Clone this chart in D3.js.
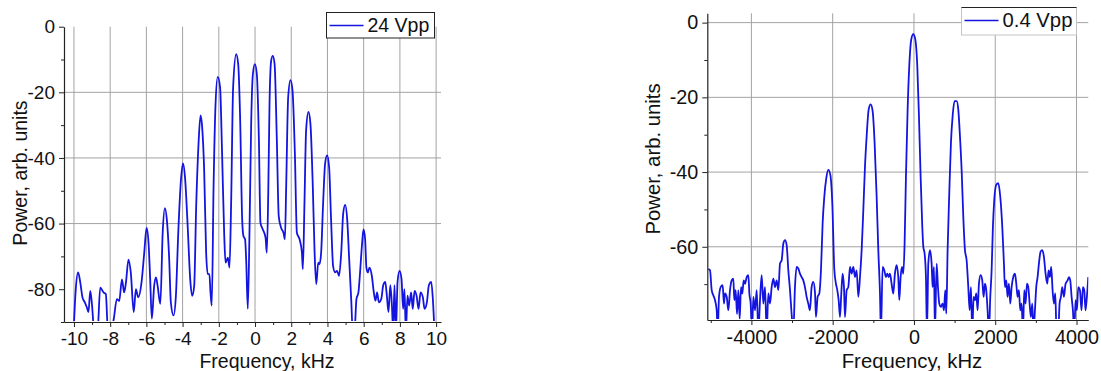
<!DOCTYPE html>
<html>
<head>
<meta charset="utf-8">
<script src="https://cdn.jsdelivr.net/npm/d3@7"></script>
<style>
    body { margin: 0; background: #fff; }
    svg { display: block; font-family: "Liberation Sans", Arial, sans-serif; }
</style>
</head>
<body>
<div id="my_chart"></div>
<script>
// left panel: 24 Vpp, frequency in kHz
var leftFreq = [-10.02, -9.9, -9.77, -9.65, -9.53, -9.4, -9.29, -9.2, -9.1, -9.0, -8.88, -8.7, -8.55, -8.37, -8.24, -8.12, -7.96, -7.8, -7.63, -7.5,
    -7.35, -7.23, -7.13, -6.99, -6.86, -6.7, -6.58, -6.45, -6.27, -6.12, -5.99, -5.88, -5.79, -5.7, -5.57, -5.47, -5.38, -5.23, -5.1, -4.98,
    -4.87, -4.74, -4.65, -4.5, -4.37, -4.24, -4.09, -3.98, -3.87, -3.72, -3.58, -3.47, -3.36, -3.25, -3.12, -3.01, -2.92, -2.81, -2.7, -2.61,
    -2.52, -2.46, -2.39, -2.29, -2.18, -2.06, -1.93, -1.82, -1.7, -1.63, -1.5, -1.41, -1.32, -1.21, -1.04, -0.93, -0.82, -0.71, -0.64, -0.55,
    -0.49, -0.4, -0.31, -0.21, -0.12, -0.01, 0.1, 0.21, 0.3, 0.43, 0.58, 0.65, 0.73, 0.8, 0.89, 0.98, 1.08, 1.2, 1.31, 1.44,
    1.57, 1.65, 1.72, 1.83, 1.96, 2.07, 2.2, 2.31, 2.46, 2.59, 2.64, 2.73, 2.82, 2.95, 3.06, 3.19, 3.29, 3.38, 3.49, 3.56,
    3.65, 3.76, 3.87, 3.98, 4.09, 4.2, 4.31, 4.42, 4.53, 4.64, 4.76, 4.87, 4.98, 5.09, 5.2, 5.31, 5.4, 5.49, 5.6, 5.71,
    5.8, 5.9, 5.99, 6.08, 6.15, 6.23, 6.32, 6.45, 6.56, 6.65, 6.74, 6.84, 6.97, 7.08, 7.19, 7.28, 7.37, 7.47, 7.56, 7.63,
    7.7, 7.78, 7.87, 7.98, 8.09, 8.18, 8.25, 8.33, 8.42, 8.51, 8.62, 8.71, 8.81, 8.92, 9.03, 9.14, 9.27, 9.36, 9.49, 9.6,
    9.73, 9.82, 9.91];
var leftPower = [-93, -80, -74.9, -78, -82.5, -84, -85.5, -87, -80.5, -85, -93, -93, -79.5, -81, -81.5, -93, -93, -89, -83, -83.6,
    -77, -81, -78, -71, -75, -87, -80, -82.5, -78, -69, -61.3, -66, -77, -89, -79, -76.4, -79, -84.5, -62.8, -55.3,
    -58.8, -70.9, -84, -88, -82, -62.8, -46.7, -41.7, -45.7, -60.8, -77, -82, -79, -54.8, -35.6, -27, -30.6, -43.7, -68.9, -75.4,
    -75.4, -81, -85, -48.7, -23.5, -15.3, -18.5, -38.6, -63.8, -71.9, -70.4, -73.4, -53.8, -18.5, -8.4, -11.4, -28.6, -58.8, -63.8, -64.8,
    -70.9, -86, -63.8, -28.6, -14.5, -11.4, -14.5, -33.6, -59.8, -61.8, -64.3, -68.9, -50.7, -23.5, -10.4, -8.9, -11.4, -33.6, -57.8, -61.3,
    -62.8, -64.8, -48.7, -21.5, -16.3, -19.5, -38.6, -62.8, -64.8, -68.9, -73.9, -53.8, -31.6, -26, -29.6, -48.7, -68.9, -78.5, -71.9, -72.4,
    -68.9, -53.8, -41.7, -39.2, -42.7, -58.8, -72.9, -74.9, -74.4, -75.9, -68.9, -56.8, -54.3, -58.8, -70.9, -83, -93, -93, -83, -81,
    -74.9, -66.9, -61.8, -64.8, -73.4, -74.9, -73.4, -75.9, -81, -83.5, -81, -84, -83, -78.8, -77.8, -82, -87, -78.8, -85, -93,
    -78.8, -93, -77.8, -74.4, -76.9, -86, -80, -93, -82, -85, -81, -86, -80.5, -82, -86, -81, -82.5, -86, -84, -78.8,
    -77.8, -83, -93];

// right panel: 0.4 Vpp
var rightFreq = [-5060, -5018, -4977, -4936, -4895, -4854, -4829, -4797, -4756, -4707, -4674, -4649, -4608, -4567, -4526, -4485, -4444, -4420, -4387, -4354,
    -4321, -4288, -4255, -4223, -4190, -4157, -4116, -4075, -4050, -4018, -3985, -3952, -3911, -3870, -3829, -3788, -3747, -3706, -3665, -3624,
    -3583, -3542, -3501, -3460, -3419, -3378, -3337, -3296, -3255, -3214, -3173, -3132, -3091, -3050, -3010, -2969, -2928, -2887, -2846, -2805,
    -2764, -2723, -2682, -2641, -2600, -2559, -2518, -2477, -2436, -2411, -2370, -2329, -2288, -2247, -2206, -2157, -2107, -2058, -2009, -1960,
    -1919, -1886, -1853, -1820, -1788, -1755, -1722, -1697, -1656, -1615, -1574, -1533, -1492, -1451, -1410, -1369, -1328, -1287, -1246, -1205,
    -1164, -1115, -1066, -1017, -968, -918, -877, -836, -812, -771, -730, -689, -656, -623, -591, -550, -509, -468, -427, -386,
    -361, -328, -295, -262, -230, -197, -156, -115, -66, -16, 33, 82, 123, 164, 205, 230, 262, 295, 320, 353,
    394, 435, 459, 492, 517, 558, 591, 623, 664, 705, 738, 771, 796, 828, 869, 910, 951, 1000, 1050, 1091,
    1132, 1173, 1214, 1255, 1296, 1337, 1370, 1402, 1435, 1468, 1501, 1534, 1566, 1599, 1640, 1681, 1714, 1747, 1779, 1812,
    1845, 1878, 1911, 1943, 1976, 2025, 2075, 2124, 2173, 2214, 2239, 2272, 2304, 2337, 2370, 2403, 2444, 2485, 2518, 2550,
    2583, 2616, 2649, 2682, 2714, 2747, 2780, 2813, 2846, 2878, 2911, 2944, 2977, 3009, 3042, 3075, 3116, 3157, 3198, 3239,
    3280, 3313, 3345, 3378, 3411, 3444, 3477, 3509, 3550, 3583, 3616, 3649, 3690, 3731, 3780, 3813, 3846, 3879, 3911, 3944,
    3977, 4010, 4042, 4083, 4124, 4157, 4190, 4222, 4255, 4290];
var rightPower = [-66, -66.3, -71.6, -73, -74.3, -77, -83, -73.4, -70.8, -70.3, -75.2, -72.5, -73.4, -77, -71.6, -69, -68.5, -74.3, -71.6, -78,
    -71.6, -79.3, -70.8, -72.5, -69, -69.9, -68.1, -67.6, -72.5, -75.2, -83, -73.4, -77, -71.6, -83, -74.3, -67.6, -75.2, -70.8, -83,
    -72.5, -75.2, -70.8, -68.5, -70.8, -69, -71.6, -64.5, -63.6, -59.1, -58.2, -59.6, -66.3, -71.6, -78, -83, -70.8, -65.4, -65.8, -67.2,
    -68.1, -69, -70.8, -73.4, -75.2, -77, -70.8, -69.4, -72.1, -78.8, -73.4, -72.5, -66.3, -53.7, -46.6, -41.6, -39.4, -40.7, -48.4, -66,
    -69.9, -71.6, -74.3, -78.8, -72.5, -67.2, -70.8, -78.8, -71.6, -70.8, -65.4, -67.2, -65.4, -68.1, -66.3, -73.4, -68.1, -60.9, -50.2, -38.5,
    -30.4, -23.3, -21.9, -23.7, -32.2, -46.6, -60.9, -72.5, -83, -65.4, -66.3, -68.1, -67.2, -68.1, -67.2, -69.9, -72.5, -67.2, -64.9, -68.1,
    -74.3, -68.1, -65.4, -67.2, -59.1, -41.2, -23.3, -11.6, -4.5, -3.1, -4.5, -11.6, -25.1, -41.2, -54.6, -60, -61.8, -68.1, -83, -64.5,
    -60.9, -64.5, -70.8, -65.4, -83, -64.5, -70.8, -75.2, -76.1, -75.2, -77, -71.6, -77.9, -60.9, -45.7, -32.2, -25.1, -21, -21, -23.3,
    -30.4, -39.4, -51.9, -60.9, -63.6, -70.8, -77, -70.8, -83, -73.4, -74.3, -72.5, -77, -69.9, -67.6, -69, -73.4, -69.9, -71.6, -77,
    -83, -73.4, -66.3, -54.6, -47.5, -43.4, -43, -46.6, -54.6, -64.5, -70.8, -69, -73.4, -69.9, -75.2, -70.8, -68.1, -67.2, -69.9, -73.4,
    -71.6, -77, -75.2, -83, -71.6, -75.2, -69.9, -70.8, -75.2, -78.8, -75.2, -83, -77, -70.8, -68.1, -64.5, -61.3, -60.9, -62.7, -67.2,
    -69.9, -66.3, -68.1, -65.4, -71.6, -75.2, -72.5, -83, -83, -75.2, -73.4, -70.8, -73.4, -69.9, -69, -68.1, -69, -73.4, -77, -83,
    -74.3, -77, -70.8, -71.6, -77, -70.8, -71.6, -77, -73.4, -68.1];

var leftXMajor = [-10, -8, -6, -4, -2, 0, 2, 4, 6, 8, 10];
var leftXMinor = [-9, -7, -5, -3, -1, 1, 3, 5, 7, 9];
var leftYMajor = [-80, -60, -40, -20, 0];
var leftYMinor = [-90, -70, -50, -30, -10];
var leftYGrid = [-60, -40, -20];

var rightXMajor = [-4000, -2000, 0, 2000, 4000];
var rightXMinor = [-5000, -3000, -1000, 1000, 3000];
var rightYMajor = [-60, -40, -20, 0];
var rightYMinor = [-70, -50, -30, -10];
var rightYGrid = [-60, -40, -20, 0];

var lineColor = "#1414e0";
var gridColor = "#a3a3a3";
var axisColor = "#222";

var svg = d3.select("#my_chart")
    .append("svg")
    .attr("width", 1101)
    .attr("height", 371);

function drawPanel(p) {
    var x = d3.scaleLinear().domain(p.xdomain).range([p.left, p.right]);
    var y = d3.scaleLinear().domain(p.ydomain).range([p.bottom, p.top]);
    var g = svg.append("g");

    // grid
    g.selectAll(".vgrid")
        .data(p.xMajor)
        .enter().append("line")
        .attr("x1", d => x(d)).attr("x2", d => x(d))
        .attr("y1", p.top).attr("y2", p.bottom)
        .attr("stroke", gridColor).attr("stroke-width", 1);
    g.selectAll(".hgrid")
        .data(p.yGrid)
        .enter().append("line")
        .attr("x1", p.left).attr("x2", p.right)
        .attr("y1", d => y(d)).attr("y2", d => y(d))
        .attr("stroke", gridColor).attr("stroke-width", 1);

    // data
    g.append("clipPath").attr("id", p.id + "clip")
        .append("rect")
        .attr("x", p.left).attr("y", p.top - 2)
        .attr("width", p.right - p.left).attr("height", p.bottom - p.top + 1);

    var line = d3.line()
        .x(d => x(d[0]))
        .y(d => y(d[1]))
        .curve(d3.curveMonotoneX);
    g.append("path")
        .datum(d3.zip(p.freq, p.power))
        .attr("clip-path", "url(#" + p.id + "clip)")
        .attr("fill", "none")
        .attr("stroke", lineColor)
        .attr("stroke-width", 1.8)
        .attr("stroke-linejoin", "round")
        .attr("d", line);

    // axes
    var fmt = d => String(d);
    g.append("g")
        .attr("transform", "translate(0," + p.bottom + ")")
        .call(d3.axisBottom(x).tickValues(p.xMajor).tickFormat(fmt).tickSize(5).tickSizeOuter(0).tickPadding(5));
    g.append("g")
        .attr("transform", "translate(0," + p.bottom + ")")
        .call(d3.axisBottom(x).tickValues(p.xMinor).tickFormat("").tickSize(3).tickSizeOuter(0))
        .select(".domain").remove();
    g.append("g")
        .attr("transform", "translate(" + p.left + ",0)")
        .call(d3.axisLeft(y).tickValues(p.yMajor).tickFormat(fmt).tickSize(5).tickSizeOuter(0).tickPadding(4));
    g.append("g")
        .attr("transform", "translate(" + p.left + ",0)")
        .call(d3.axisLeft(y).tickValues(p.yMinor.filter(v => v >= p.ydomain[0])).tickFormat("").tickSize(3).tickSizeOuter(0))
        .select(".domain").remove();

    g.selectAll(".tick line").attr("stroke", axisColor);
    g.selectAll(".domain").attr("stroke", axisColor).attr("stroke-width", 1.2);
    g.selectAll(".tick text")
        .attr("font-family", "Liberation Sans, Arial, sans-serif")
        .attr("font-size", p.fontSize - 0.5)
        .attr("fill", "#111");

    // titles
    g.append("text")
        .attr("x", p.xTitle[0]).attr("y", p.xTitle[1])
        .attr("text-anchor", "middle")
        .attr("font-size", p.fontSize)
        .attr("fill", "#111")
        .text("Frequency, kHz");
    g.append("text")
        .attr("transform", "translate(" + p.yTitle[0] + "," + p.yTitle[1] + ")rotate(-90)")
        .attr("text-anchor", "middle")
        .attr("font-size", p.fontSize)
        .attr("fill", "#111")
        .text("Power, arb. units");

    // legend
    var lg = g.append("g");
    lg.append("rect")
        .attr("x", p.legend.x).attr("y", p.legend.y)
        .attr("width", p.legend.w).attr("height", p.legend.h)
        .attr("fill", "#fff")
        .attr("stroke", p.legend.stroke).attr("stroke-width", 1);
    if (p.legend.topLine) {
        lg.append("line")
            .attr("x1", p.legend.x).attr("x2", p.legend.x + p.legend.w)
            .attr("y1", p.legend.y).attr("y2", p.legend.y)
            .attr("stroke", "#222").attr("stroke-width", 1.2);
    }
    lg.append("line")
        .attr("x1", p.legend.x + 3).attr("x2", p.legend.x + 37)
        .attr("y1", p.legend.y + 13).attr("y2", p.legend.y + 13)
        .attr("stroke", lineColor).attr("stroke-width", 1.6);
    lg.append("text")
        .attr("x", p.legend.x + 41).attr("y", p.legend.y + 19.5)
        .attr("font-size", p.fontSize)
        .attr("fill", "#111")
        .text(p.label);
}

drawPanel({
    id: "left",
    freq: leftFreq, power: leftPower,
    xdomain: [-10.55, 10.27], ydomain: [-90, 0],
    left: 64, right: 441, top: 26.7, bottom: 322,
    xMajor: leftXMajor, xMinor: leftXMinor,
    yMajor: leftYMajor, yMinor: leftYMinor, yGrid: leftYGrid,
    fontSize: 19.5,
    xTitle: [267, 367.5], yTitle: [26.5, 173],
    label: "24 Vpp",
    legend: { x: 326.5, y: 12.5, w: 108, h: 25.5, stroke: "#222", topLine: false }
});

drawPanel({
    id: "right",
    freq: rightFreq, power: rightPower,
    xdomain: [-5085, 4290], ydomain: [-79.6, 2.5],
    left: 707.3, right: 1088.3, top: 13.3, bottom: 320,
    xMajor: rightXMajor, xMinor: rightXMinor,
    yMajor: rightYMajor, yMinor: rightYMinor, yGrid: rightYGrid,
    fontSize: 20.3,
    xTitle: [912, 367.5], yTitle: [659.5, 159],
    label: "0.4 Vpp",
    legend: { x: 961.5, y: 7.5, w: 115, h: 27.5, stroke: "#c4c4c4", topLine: true }
});
</script>
</body>
</html>
